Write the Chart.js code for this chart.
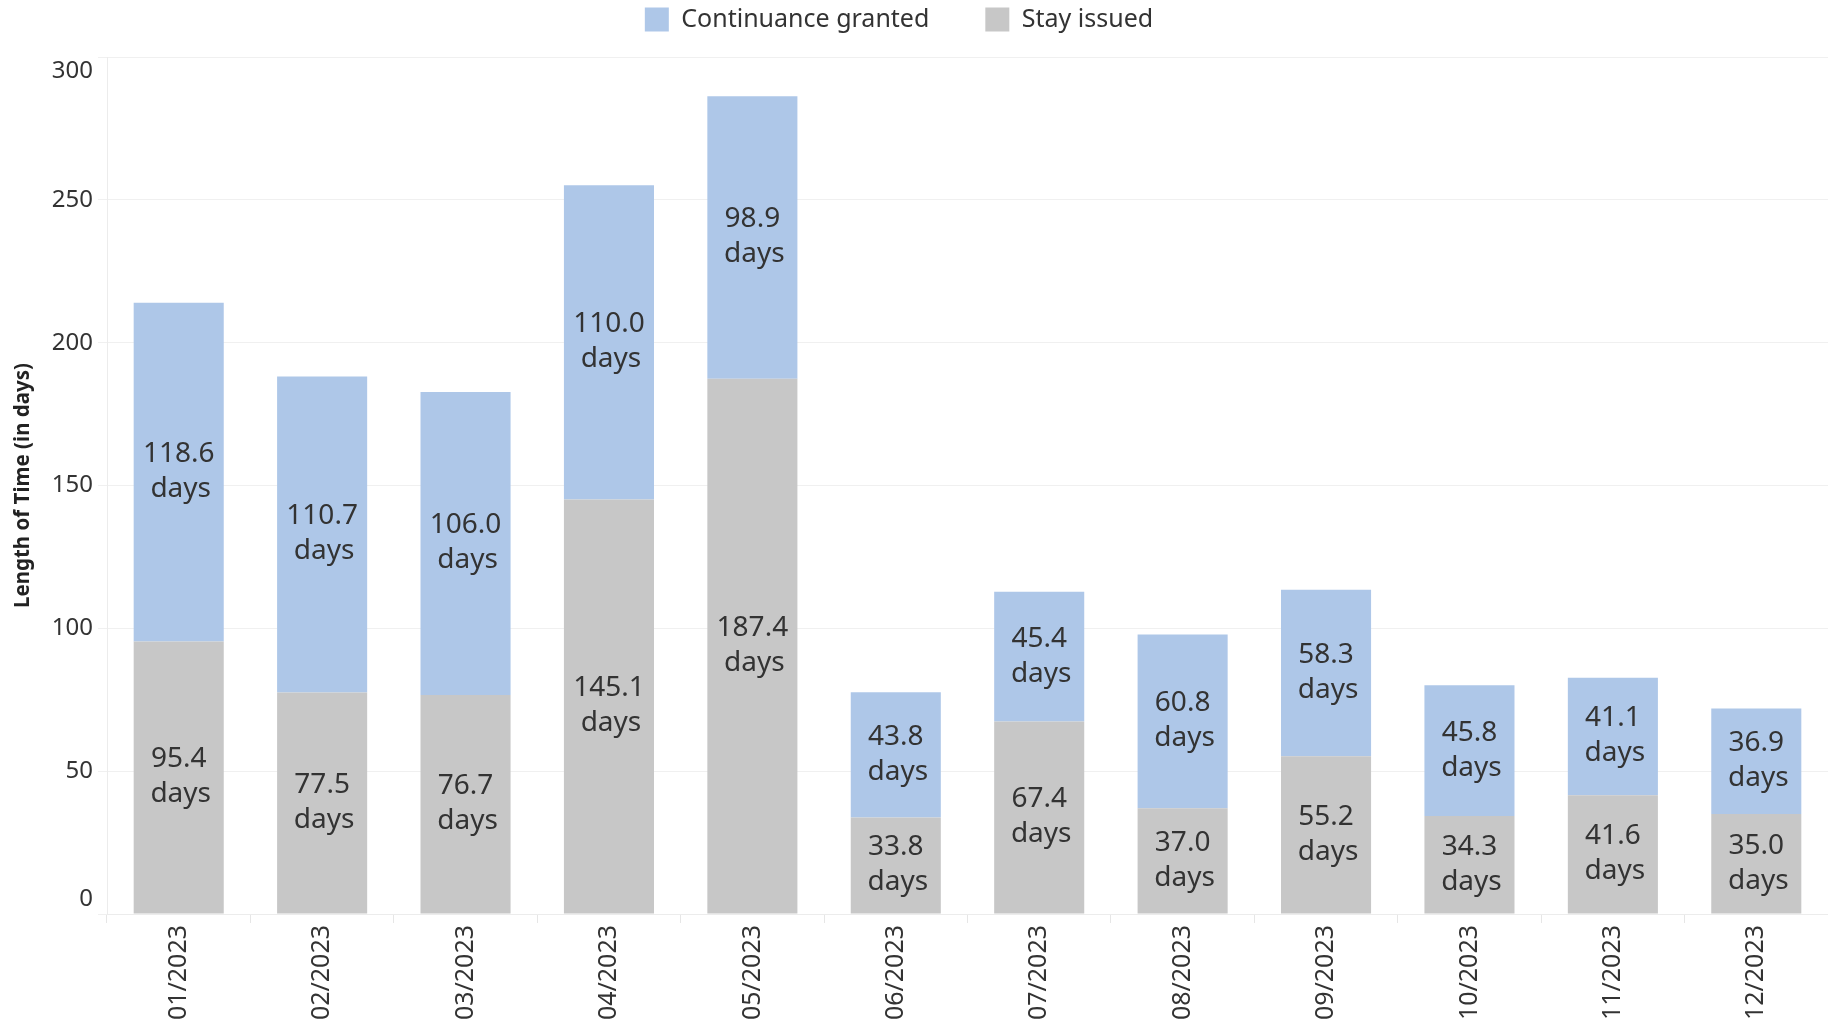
<!DOCTYPE html>
<html>
<head>
<meta charset="utf-8">
<title>Length of Time</title>
<script src="https://cdn.jsdelivr.net/npm/chart.js@4.4.1/dist/chart.umd.min.js"></script>
<style>
    html, body { margin: 0; padding: 0; background: #ffffff; overflow: hidden; }
    #wrap { width: 1828px; height: 1029px; position: relative; }
</style>
</head>
<body>
<div id="wrap"><canvas id="timeChart"></canvas></div>
<script>
// Chart data
const months = ['01/2023', '02/2023', '03/2023', '04/2023', '05/2023', '06/2023',
    '07/2023', '08/2023', '09/2023', '10/2023', '11/2023', '12/2023'];
const stayIssued = [95.4, 77.5, 76.7, 145.1, 187.4, 33.8, 67.4, 37.0, 55.2, 34.3, 41.6, 35.0];
const continuanceGranted = [118.6, 110.7, 106.0, 110.0, 98.9, 43.8, 45.4, 60.8, 58.3, 45.8, 41.1, 36.9];
const yTicks = [0, 50, 100, 150, 200, 250, 300];

const FONT = '"Noto Sans", "Open Sans", sans-serif';
const TEXT = '#333333';

// legend sits in the strip above the plot
const legendSpot = {
    id: 'legendSpot',
    beforeInit(chart) {
        const fit = chart.legend.fit;
        chart.legend.fit = function () {
            fit.bind(chart.legend)();
            this.height = 57;
        };
    },
    afterLayout(chart) {
        const l = chart.legend;
        // padding is big for the gap between items, so move the top back up
        // (bottom stays put, the legend clips to its own box)
        l.top = 7 - l.options.labels.padding;
        l.left -= 15;
        l.right -= 15;
    }
};

// "xx.x days" labels in the middle of each segment
const segmentLabels = {
    id: 'segmentLabels',
    afterDatasetsDraw(chart) {
        const ctx = chart.ctx;
        ctx.save();
        ctx.font = '28px ' + FONT;
        ctx.fillStyle = TEXT;
        ctx.textAlign = 'center';
        ctx.textBaseline = 'middle';
        chart.data.datasets.forEach((ds, i) => {
            const meta = chart.getDatasetMeta(i);
            meta.data.forEach((bar, j) => {
                const mid = (bar.y + bar.base) / 2;
                ctx.fillText(ds.data[j].toFixed(1), bar.x, mid - 18);
                ctx.fillText('days', bar.x + 2, mid + 17);
            });
        });
        ctx.restore();
    }
};

const ctx = document.getElementById('timeChart').getContext('2d');
const timeChart = new Chart(ctx, {
    type: 'bar',
    data: {
        labels: months,
        datasets: [{
            label: 'Stay issued',
            data: stayIssued,
            backgroundColor: '#c7c7c7',
            borderWidth: 0,
            categoryPercentage: 1,
            barPercentage: 0.628
        }, {
            label: 'Continuance granted',
            data: continuanceGranted,
            backgroundColor: '#aec7e8',
            borderWidth: 0,
            categoryPercentage: 1,
            barPercentage: 0.628
        }]
    },
    options: {
        responsive: true,
        maintainAspectRatio: false,
        animation: false,
        layout: { padding: 0 },
        scales: {
            x: {
                stacked: true,
                grid: {
                    drawOnChartArea: false,
                    tickLength: 9,
                    color: '#e6e6e6'
                },
                border: { color: '#ececec' },
                ticks: {
                    minRotation: 90,
                    maxRotation: 90,
                    autoSkip: false,
                    padding: 2,
                    color: TEXT,
                    font: { family: FONT, size: 25 }
                },
                afterFit(scale) { scale.height = 115; }
            },
            y: {
                stacked: true,
                min: 0,
                max: 300,
                afterBuildTicks(scale) {
                    scale.ticks = yTicks.map(v => ({ value: v }));
                },
                grid: {
                    color: '#f0f0f0',
                    tickLength: 9
                },
                border: { color: '#ececec' },
                ticks: {
                    padding: 5,
                    color: TEXT,
                    font: { family: FONT, size: 24 },
                    // end labels are tucked inside the axis range
                    callback: (value) => {
                        if (value === 300) return ['', '300'];
                        if (value === 0) return ['0', ''];
                        return String(value);
                    }
                },
                title: {
                    display: true,
                    text: 'Length of Time (in days)',
                    color: '#222222',
                    font: { family: FONT, size: 20.5, weight: 'bold' },
                    padding: { top: 11, bottom: 0 }
                },
                afterFit(scale) { scale.width = 107; }
            }
        },
        plugins: {
            legend: {
                position: 'top',
                reverse: true,
                labels: {
                    boxWidth: 24,
                    boxHeight: 24,
                    padding: 56,
                    color: TEXT,
                    font: { family: FONT, size: 25 }
                }
            },
            tooltip: { enabled: false }
        }
    },
    plugins: [legendSpot, segmentLabels]
});
</script>
</body>
</html>
